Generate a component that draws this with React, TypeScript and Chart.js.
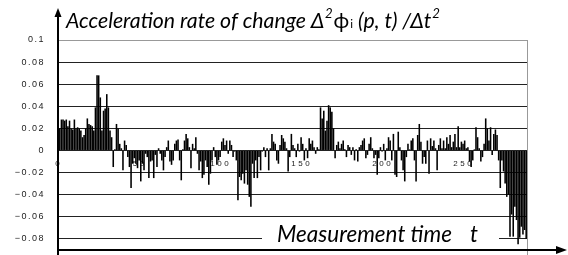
import { useEffect, useRef } from 'react';
import { Chart, registerables } from 'chart.js';
Chart.register(...registerables);

// Acceleration rate of change values (t = 0 .. 288)
const valuesA = [
  0.020, 0.028, 0.028, 0.027, 0.028, 0.022, 0.027, 0.020, 0.019, 0.028,
  0.020, 0.021, 0.020, 0.018, 0.012, 0.014, 0.020, 0.029, 0.024, 0.023,
  0.022, 0.018, 0.039, 0.068, 0.068, 0.048, 0.018, 0.036, 0.038, 0.051,
  0.039, 0.018, 0.012, -0.015, 0.001, 0.024, 0.020, 0.006, 0.002, -0.018,
  0.009, 0.005, -0.006, -0.015, -0.034, -0.012, -0.007, -0.012, -0.016, -0.009,
  -0.028, -0.012, -0.018, -0.003, -0.006, -0.025, -0.010,
];
const valuesB = [
  -0.009, -0.025, -0.004, -0.015, 0.002, -0.003, -0.009, -0.018, -0.006, 0.003,
  0.009, -0.010, -0.013, -0.009, 0.006, 0.009, 0.010, -0.009, -0.027, 0.001,
  0.009, 0.015, 0.011, 0.003, -0.016, 0.006, 0.002, 0.012, -0.003, -0.018,
  -0.010, -0.025, -0.022, -0.009, -0.015, -0.031, -0.021, -0.009, 0.003, -0.006,
  -0.013, -0.009, -0.006, 0.008, 0.011, 0.005, 0.009, -0.003, 0.009, 0.005,
  -0.006, -0.001, -0.009, -0.045, -0.024, -0.027, -0.021, -0.030,
];
const valuesC = [
  -0.018, -0.031, -0.042, -0.051, -0.012, -0.025, -0.009, -0.025, -0.006, -0.018,
  -0.001, 0.003, -0.006, 0.002, -0.018, 0.002, 0.015, 0.008, 0.006, -0.009,
  -0.012, 0.005, 0.014, 0.011, 0.008, 0.002, -0.019, -0.006, 0.015, 0.005,
  0.002, -0.006, 0.006, -0.001, 0.012, 0.006, -0.009, 0.002, -0.007, 0.011,
  0.006, 0.009, 0.003, -0.003, 0.003, 0.001, 0.039, 0.029, 0.036, 0.018,
  0.027, 0.041, 0.039, 0.035, 0.020, -0.007, 0.005, 0.008,
];
const valuesD = [
  0.002, 0.006, 0.009, 0.001, -0.006, 0.005, 0.003, -0.004, 0.003, -0.009,
  0.001, -0.010, 0.003, 0.005, 0.009, 0.011, -0.007, -0.004, 0.006, 0.012,
  0.002, -0.007, -0.004, -0.022, -0.007, 0.003, -0.001, 0.006, -0.009, 0.002,
  0.012, 0.009, -0.009, 0.015, -0.022, -0.024, 0.017, 0.003, -0.009, -0.018,
  -0.028, -0.006, 0.006, 0.001, 0.009, 0.011, -0.009, -0.028, 0.014, 0.024,
  0.008, -0.012, -0.006, -0.012, 0.009, -0.021, 0.011, 0.004,
];
const valuesE = [
  0.009, 0.002, -0.018, 0.005, 0.011, 0.002, 0.009, 0.002, 0.012, 0.006,
  0.014, 0.003, 0.008, 0.015, 0.003, 0.022, 0.003, 0.008, 0.006, 0.009,
  0.002, 0.003, -0.010, -0.015, -0.009, 0.001, 0.021, 0.012, 0.002, -0.010,
  -0.006, 0.006, 0.029, 0.020, 0.009, 0.021, -0.004, 0.015, 0.019, 0.014,
  -0.009, -0.034, -0.009, -0.019, -0.030, -0.042, -0.040, -0.078, -0.058, -0.078,
  -0.051, -0.063, -0.085, -0.079, -0.069, -0.076, -0.072, -0.080,
];
const values = [...valuesA, ...valuesB, ...valuesC, ...valuesD, ...valuesE];
const categories = values.map((_, i) => String(i));

const xTickIndices = [0, 50, 100, 150, 200, 250];
const xTickLabels = ['0', '50', '100', '150', '200', '250'];
const yTickValues = [0.1, 0.08, 0.06, 0.04, 0.02, 0, -0.02, -0.04, -0.06, -0.08];
const yMin = -0.091;
const yMax = 0.1;

const titleMain = 'Acceleration rate of change Δ';
const xTitle = 'Measurement time';
const xTitleVar = 't';

const FONT = 'Lato, "Open Sans", "DejaVu Sans", sans-serif';
const TICK_FONT = '"Liberation Sans", Arial, sans-serif';

const decor = {
  id: 'decor',
  beforeDraw(chart: any) {
    chart.ctx.letterSpacing = '1.5px';
  },
  beforeDatasetsDraw(chart: any) {
    const ctx = chart.ctx;
    const xs = chart.scales.x;
    const ys = chart.scales.y;
    ctx.save();
    ctx.letterSpacing = '2.5px';
    ctx.font = `8px ${TICK_FONT}`;
    ctx.fillStyle = '#222';
    ctx.textAlign = 'center';
    ctx.textBaseline = 'middle';
    const ly = ys.getPixelForValue(0) + 13;
    xTickIndices.forEach((v, i) => {
      ctx.fillText(xTickLabels[i], xs.getPixelForValue(v) - 1, ly);
    });
    ctx.letterSpacing = '0px';
    // white box behind axis title
    ctx.fillStyle = '#fff';
    ctx.fillRect(262, 221, 237, 26);
    ctx.restore();
    ctx.letterSpacing = '0px';
  },
  afterDraw(chart: any) {
    const ctx = chart.ctx;
    const ca = chart.chartArea;
    ctx.save();
    ctx.letterSpacing = '0px';
    // right grey border
    ctx.strokeStyle = '#999';
    ctx.lineWidth = 1;
    ctx.beginPath();
    ctx.moveTo(Math.round(ca.right) + 0.5, ca.top);
    ctx.lineTo(Math.round(ca.right) + 0.5, 255);
    ctx.stroke();

    // y axis with arrow
    const ax = Math.round(ca.left) - 1;
    ctx.strokeStyle = '#000';
    ctx.fillStyle = '#000';
    ctx.lineWidth = 2;
    ctx.beginPath();
    ctx.moveTo(ax, 255);
    ctx.lineTo(ax, 15);
    ctx.stroke();
    ctx.beginPath();
    ctx.moveTo(ax, 8);
    ctx.lineTo(ax - 3.5, 17);
    ctx.lineTo(ax + 3.5, 17);
    ctx.closePath();
    ctx.fill();

    // x axis with arrow
    const ay = 250;
    ctx.beginPath();
    ctx.moveTo(ax - 1, ay);
    ctx.lineTo(558, ay);
    ctx.stroke();
    ctx.beginPath();
    ctx.moveTo(567, ay);
    ctx.lineTo(556, ay - 4);
    ctx.lineTo(556, ay + 4);
    ctx.closePath();
    ctx.fill();

    // title
    ctx.fillStyle = '#000';
    ctx.textBaseline = 'alphabetic';
    ctx.textAlign = 'left';
    ctx.font = `italic 20px ${FONT}`;
    const w20 = ctx.measureText('Acceleration rate of change ').width;
    const S = 20 * 245 / w20;
    let x = 66;
    const by = 28;
    ctx.font = `italic ${S}px ${FONT}`;
    ctx.fillText(titleMain, x, by);
    x += ctx.measureText(titleMain).width;
    ctx.font = `italic ${S * 0.62}px ${FONT}`;
    ctx.fillText('2', x + 0.5, by - S * 0.45);
    x += ctx.measureText('2').width + 1.5;
    ctx.font = `${S}px ${FONT}`;
    ctx.fillText('ϕ', x, by);
    x += ctx.measureText('ϕ').width + 1;
    ctx.font = `${S * 0.55}px ${FONT}`;
    ctx.fillText('i', x, by);
    x += ctx.measureText('i').width + 5;
    ctx.font = `italic ${S}px ${FONT}`;
    const rest = '(p, t) /Δt';
    ctx.fillText(rest, x, by);
    x += ctx.measureText(rest).width;
    ctx.font = `italic ${S * 0.62}px ${FONT}`;
    ctx.fillText('2', x + 1, by - S * 0.45);

    // x axis title
    ctx.font = `italic 20px ${FONT}`;
    const wx = ctx.measureText(xTitle).width;
    const S2 = 20 * 175 / wx;
    ctx.font = `italic ${S2}px ${FONT}`;
    ctx.fillText(xTitle, 277, 242);
    ctx.fillText(xTitleVar, 470, 242);
    ctx.restore();
  },
};

export default function App() {
  const ref = useRef<HTMLCanvasElement | null>(null);
  useEffect(() => {
    if (!ref.current) return;
    const chart = new Chart(ref.current, {
      type: 'bar',
      data: {
        labels: categories,
        datasets: [
          {
            data: values,
            backgroundColor: '#000',
            borderWidth: 0,
            barPercentage: 0.97,
            categoryPercentage: 1,
          },
        ],
      },
      options: {
        animation: false,
        responsive: true,
        maintainAspectRatio: false,
        layout: { padding: { left: 0, right: 41, top: 40, bottom: 4 } },
        plugins: { legend: { display: false }, tooltip: { enabled: false }, title: { display: false } },
        scales: {
          x: {
            display: false,
            offset: true,
            ticks: { display: false },
            grid: { display: false },
            afterFit: (s: any) => { s.height = 0; s.paddingTop = 0; s.paddingBottom = 0; },
          },
          y: {
            min: yMin,
            max: yMax,
            afterFit: (s: any) => { s.width = 59; s.paddingTop = 0; s.paddingBottom = 0; },
            afterBuildTicks: (s: any) => { s.ticks = yTickValues.map((v) => ({ value: v })); },
            border: { display: false },
            grid: {
              drawTicks: false,
              color: (c: any) => (c.tick && Math.abs(c.tick.value - 0.1) < 1e-9 ? '#999' : '#222'),
              lineWidth: 1,
            },
            ticks: {
              padding: 14,
              color: '#222',
              font: { family: TICK_FONT, size: 9 },
              callback: (v: any) => {
                const n = Number(v);
                if (Math.abs(n) < 1e-9) return '0';
                return (n < 0 ? '−' : '') + String(Number(Math.abs(n).toFixed(2)));
              },
            },
          },
        },
      },
      plugins: [decor],
    });
    return () => chart.destroy();
  }, []);
  return (
    <div style={{ position: 'fixed', left: 0, top: 0, width: 568, height: 255, background: '#fff' }}>
      <canvas ref={ref} />
    </div>
  );
}
